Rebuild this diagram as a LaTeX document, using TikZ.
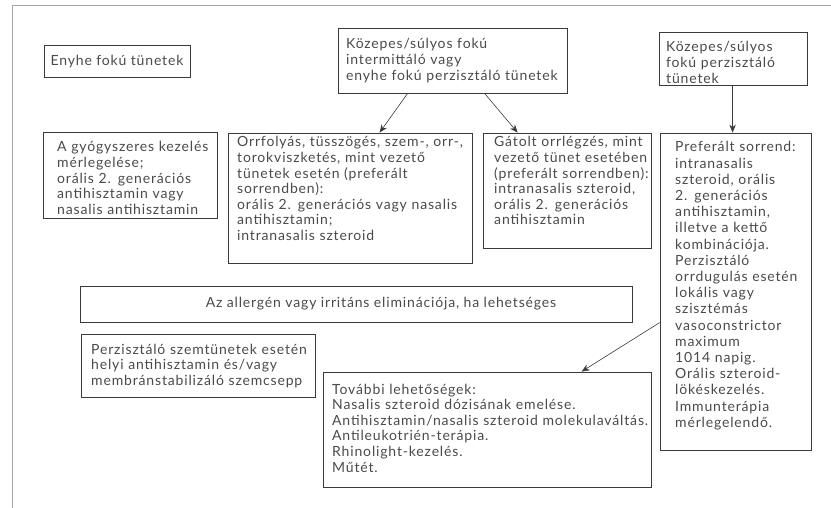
\documentclass[tikz,border=0pt]{standalone}
\usepackage{fontspec}
\setmainfont{Lato}[LetterSpace=6]
\usetikzlibrary{arrows.meta,fit}
\definecolor{txtc}{HTML}{4A4A4A}
\definecolor{linec}{HTML}{3A3A3A}
\begin{document}
\begin{tikzpicture}[x=1pt,y=-1pt,
  box/.style={draw=linec,line width=0.8pt,inner sep=0pt},
  txt/.style={inner sep=0pt,anchor=base west,align=left,text width=330pt,text=txtc,font=\fontsize{14}{15.6}\selectfont},
  one/.style={inner sep=0pt,anchor=base,text=txtc,font=\fontsize{14}{15.6}\selectfont},
  arr/.style={draw=linec,line width=0.6pt,-{Stealth[length=8pt,width=6.5pt]}},
  frame/.style={draw=gray!70,line width=0.5pt}]
\useasboundingbox (0,0) rectangle (831,508);
\coordinate (fa) at (12,5);
\coordinate (fb) at (831,5);
\coordinate (fc) at (12,508);
\draw[frame] (fb) -- (fa) -- (fc);
% boxes
\node[box,fit={(44,45) (190,77)}] (mild) {};
\node[box,fit={(338,28) (567,93)}] (mid) {};
\node[box,fit={(659,32) (807,85)}] (sev) {};
\node[box,fit={(43,132) (217,218)}] (A) {};
\node[box,fit={(228,133) (472,263)}] (B) {};
\node[box,fit={(483,133) (651,248)}] (C) {};
\node[box,fit={(660,133) (811,450)}] (D) {};
\node[box,fit={(80,286) (632,322)}] (E) {};
\node[box,fit={(81,334) (315,397)}] (F) {};
\node[box,fit={(323,372) (651,487)}] (G) {};
% texts
\node[one] (tmild) at (117,66) {Enyhe fokú tünetek};
\node[txt] (tmid) at (346,49) {Közepes/súlyos fokú\\intermittáló vagy\\enyhe fokú perzisztáló tünetek};
\node[txt] (tsev) at (666,52) {Közepes/súlyos\\fokú perzisztáló\\tünetek};
\node[txt] (tA) at (57,152) {A gyógyszeres kezelés\\mérlegelése;\\orális 2. generációs\\antihisztamin vagy\\nasalis antihisztamin};
\node[txt] (tB) at (237,147) {Orrfolyás, tüsszögés, szem-, orr-,\\torokviszketés, mint vezető\\tünetek esetén (preferált\\sorrendben):\\orális 2. generációs vagy nasalis\\antihisztamin;\\intranasalis szteroid};
\node[txt] (tC) at (494,147) {Gátolt orrlégzés, mint\\vezető tünet esetében\\(preferált sorrendben):\\intranasalis szteroid,\\orális 2. generációs\\antihisztamin};
\node[txt,font=\fontsize{14}{16.2}\selectfont] (tD) at (675,152) {Preferált sorrend:\\intranasalis\\szteroid, orális\\2. generációs\\antihisztamin,\\illetve a kettő\\kombinációja.\\Perzisztáló\\orrdugulás esetén\\lokális vagy\\szisztémás\\vasoconstrictor\\maximum\\1014 napig.\\Orális szteroid-\\lökéskezelés.\\Immunterápia\\mérlegelendő.};
\node[one] (tE) at (381,308) {Az allergén vagy irritáns eliminációja, ha lehetséges};
\node[txt] (tF) at (91,354) {Perzisztáló szemtünetek esetén\\helyi antihisztamin és/vagy\\membránstabilizáló szemcsepp};
\node[txt] (tG) at (332,394) {További lehetőségek:\\Nasalis szteroid dózisának emelése.\\Antihisztamin/nasalis szteroid molekulaváltás.\\Antileukotrién-terápia.\\Rhinolight-kezelés.\\Műtét.};
% connectors
\draw[arr] ([xshift=70pt]mid.south west) -- ([xshift=152pt]B.north west);
\draw[arr] ([xshift=147pt]mid.south west) -- ([xshift=35pt]C.north west);
\draw[arr] ([xshift=74pt]sev.south west) -- ([xshift=73pt]D.north west);
\draw[arr] ([yshift=-190pt]D.north west) -- ([xshift=259pt]G.north west);
\end{tikzpicture}
\end{document}
